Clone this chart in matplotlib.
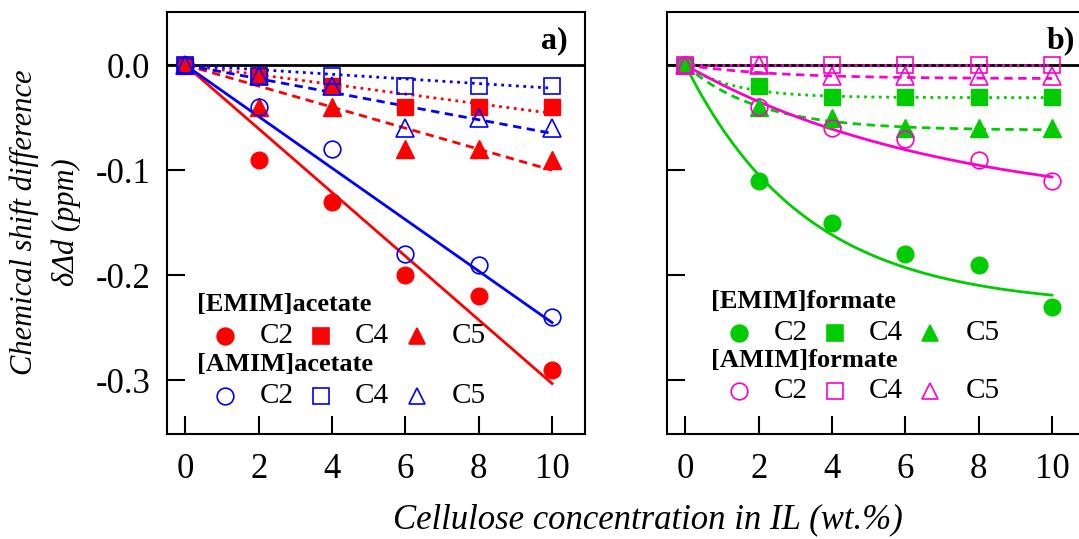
import numpy as np
import matplotlib.pyplot as plt

plt.rcParams["font.family"] = ["Liberation Serif", "DejaVu Serif"]

conc = [0, 2, 4, 6, 8, 10]

# a) acetate
emim_ac_c2 = [0, -0.09, -0.13, -0.20, -0.22, -0.29]
emim_ac_c4 = [0, -0.01, -0.02, -0.04, -0.04, -0.04]
emim_ac_c5 = [0, -0.04, -0.04, -0.08, -0.08, -0.09]
amim_ac_c2 = [0, -0.04, -0.08, -0.18, -0.19, -0.24]
amim_ac_c4 = [0, -0.01, -0.01, -0.02, -0.02, -0.02]
amim_ac_c5 = [0, -0.01, -0.02, -0.06, -0.05, -0.06]
# linear fits through origin, value at 10 wt.%
fit_end_ac = {"emim_c2": -0.303, "emim_c4": -0.046, "emim_c5": -0.100,
              "amim_c2": -0.245, "amim_c4": -0.022, "amim_c5": -0.065}

# b) formate
emim_fo_c2 = [0, -0.11, -0.15, -0.18, -0.19, -0.23]
emim_fo_c4 = [0, -0.02, -0.03, -0.03, -0.03, -0.03]
emim_fo_c5 = [0, -0.04, -0.05, -0.06, -0.06, -0.06]
amim_fo_c2 = [0, -0.04, -0.06, -0.07, -0.09, -0.11]
amim_fo_c4 = [0, 0, 0, 0, 0, 0]
amim_fo_c5 = [0, 0, -0.01, -0.01, -0.01, -0.01]
# exponential fits a*(1-exp(-x/t)) : (a, t)
fit_fo = {"emim_c2": (-0.230, 3.3), "emim_c4": (-0.031, 1.3), "emim_c5": (-0.062, 2.0),
          "amim_c2": (-0.140, 7.0), "amim_c4": (0.0, 1.0), "amim_c5": (-0.013, 2.5)}

RED = "#ff0000"
BLUE = "#0000ff"
GREEN = "#00cc00"
MAGENTA = "#ff00cc"

FS = 20      # legend text
TFS = 25     # tick labels
MS = 12

fig = plt.figure(figsize=(10.79, 5.39), dpi=100)
ax1 = fig.add_axes([0.1548, 0.1948, 0.3874, 0.783])
ax2 = fig.add_axes([0.6182, 0.1948, 0.3874, 0.783])

styles = {"c2": ("o", "-"), "c4": ("s", ":"), "c5": ("^", (0, (3, 2)))}
msize = {"o": MS, "s": MS, "^": MS + 1}


def draw_points(ax, y, color, marker, filled):
    if filled:
        ax.plot(conc, y, linestyle="none", marker=marker, ms=msize[marker], mfc=color,
                mec=color, zorder=4)
    else:
        ax.plot(conc, y, linestyle="none", marker=marker, ms=msize[marker], mfc="none",
                mec=color, mew=1.2, zorder=5)


for ax in (ax1, ax2):
    ax.axhline(0, color="black", lw=2, zorder=1)

# panel a
xx = np.array([0, 10])
for key, col in (("emim", RED), ("amim", BLUE)):
    for c in ("c2", "c4", "c5"):
        ls = styles[c][1]
        ax1.plot(xx, xx / 10 * fit_end_ac[key + "_" + c], color=col, lw=2, ls=ls,
                 zorder=3)
for y, c in ((emim_ac_c2, "c2"), (emim_ac_c4, "c4"), (emim_ac_c5, "c5")):
    draw_points(ax1, y, RED, styles[c][0], True)
for y, c in ((amim_ac_c2, "c2"), (amim_ac_c4, "c4"), (amim_ac_c5, "c5")):
    draw_points(ax1, y, BLUE, styles[c][0], False)

# panel b
xs = np.linspace(0, 10, 200)
for key, col in (("emim", GREEN), ("amim", MAGENTA)):
    for c in ("c2", "c4", "c5"):
        a, t = fit_fo[key + "_" + c]
        ax2.plot(xs, a * (1 - np.exp(-xs / t)), color=col, lw=2, ls=styles[c][1], zorder=3)
for y, c in ((emim_fo_c2, "c2"), (emim_fo_c4, "c4"), (emim_fo_c5, "c5")):
    draw_points(ax2, y, GREEN, styles[c][0], True)
for y, c in ((amim_fo_c2, "c2"), (amim_fo_c4, "c4"), (amim_fo_c5, "c5")):
    draw_points(ax2, y, MAGENTA, styles[c][0], False)

for ax in (ax1, ax2):
    ax.set_xlim(-0.5, 10.9)
    ax.set_ylim(-0.351, 0.0505)
    ax.set_xticks(conc)
    ax.set_xticklabels([str(v) for v in conc], fontsize=TFS)
    ax.set_yticks([0, -0.1, -0.2, -0.3])
    ax.tick_params(direction="in", length=13, width=1.5)
    ax.tick_params(axis="x", pad=14)
    ax.tick_params(axis="y", pad=12)
    for s in ax.spines.values():
        s.set_linewidth(1.5)

ax1.set_yticklabels(["0.0", "-0.1", "-0.2", "-0.3"], fontsize=TFS)
ax2.set_yticklabels([])

ax1.text(0.959, 0.931, "a)", transform=ax1.transAxes, ha="right", va="center",
         fontsize=FS + 3, fontweight="bold")
ax2.text(0.976, 0.931, "b)", transform=ax2.transAxes, ha="right", va="center",
         fontsize=FS + 3, fontweight="bold")

# legends
mk_off = [0.067, 0.297, 0.525]
tx_off = [0.150, 0.377, 0.610]
names = ["C2", "C4", "C5"]
marks = ["o", "s", "^"]


def legend_block(ax, x0, y0, title, color, filled):
    ax.text(x0, y0, title, transform=ax.transAxes, fontsize=FS - 1, fontweight="bold",
            ha="left", va="center")
    yr = y0 - 0.074
    for m, mo, to, n in zip(marks, mk_off, tx_off, names):
        ax.plot([x0 + mo], [yr], transform=ax.transAxes, marker=m, ms=MS,
                mfc=color if filled else "none", mec=color, mew=1.2, ls="none")
        ax.text(x0 + to, yr, n, transform=ax.transAxes, fontsize=FS + 1, ha="left",
                va="center")


legend_block(ax1, 0.072, 0.306, "[EMIM]acetate", RED, True)
legend_block(ax1, 0.072, 0.164, "[AMIM]acetate", BLUE, False)
legend_block(ax2, 0.105, 0.313, "[EMIM]formate", GREEN, True)
legend_block(ax2, 0.105, 0.175, "[AMIM]formate", MAGENTA, False)

fig.text(0.042, 0.588, "Chemical shift difference\n\u03b4\u0394d (ppm)", rotation=90,
         ha="center", va="center", fontsize=FS + 2, fontstyle="italic", linespacing=1.55,
         multialignment="center")
fig.text(0.6005, 0.035, "Cellulose concentration in IL (wt.%)", ha="center", va="center",
         fontsize=25, fontstyle="italic")

fig.savefig("out.png", dpi=100)
